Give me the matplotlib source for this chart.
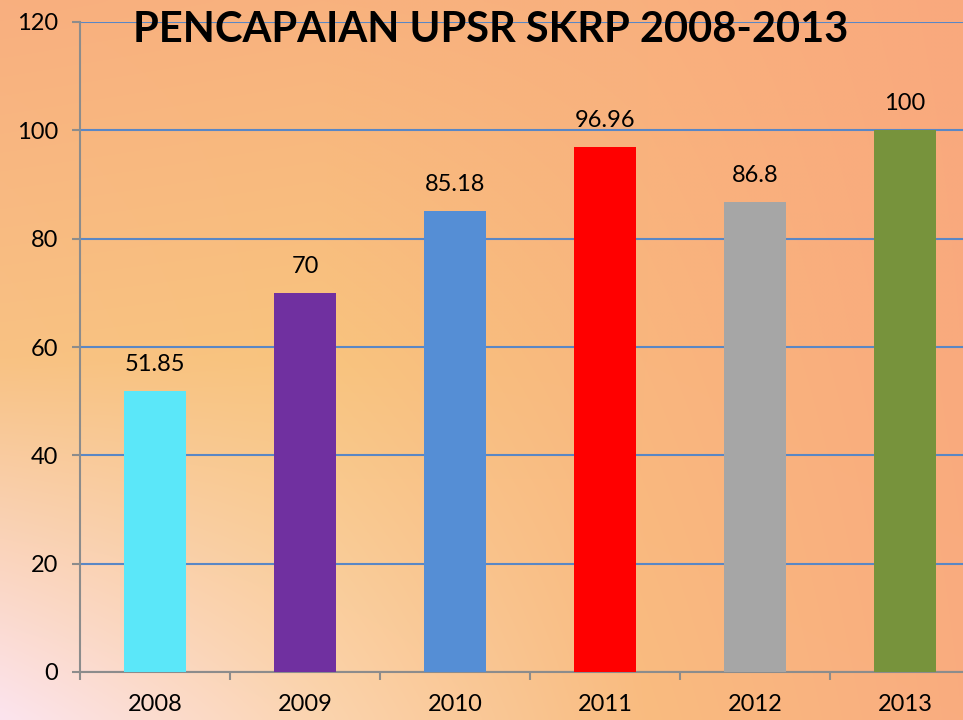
import matplotlib.pyplot as plt
import numpy as np

# data
years = ["2008", "2009", "2010", "2011", "2012", "2013"]
values = [51.85, 70, 85.18, 96.96, 86.8, 100]
value_labels = ["51.85", "70", "85.18", "96.96", "86.8", "100"]
bar_colors = ["#5be7f9", "#7030a0", "#558ed5", "#ff0000", "#a6a6a6", "#77933c"]
title = "PENCAPAIAN UPSR SKRP 2008-2013"

plt.rcParams["font.family"] = ["Lato", "DejaVu Sans"]

fig = plt.figure(figsize=(9.63, 7.2), dpi=100)

# background gradient (bilinear over a few control colours)
def hex2rgb(h):
    h = h.lstrip("#")
    return [int(h[i:i + 2], 16) / 255 for i in (0, 2, 4)]

ctrl = np.array([
    [hex2rgb(c) for c in ["#f9af7f", "#f9b27e", "#f9b07e", "#f9a97d"]],
    [hex2rgb(c) for c in ["#f8c283", "#f8c47e", "#f9b67e", "#f9aa7d"]],
    [hex2rgb(c) for c in ["#fce4ee", "#fbd4ae", "#f9bc80", "#faac7f"]],
])
ny, nx = 180, 240
gy = np.linspace(0, ctrl.shape[0] - 1, ny)
gx = np.linspace(0, ctrl.shape[1] - 1, nx)
img = np.zeros((ny, nx, 3))
for i, yy in enumerate(gy):
    y0 = min(int(yy), ctrl.shape[0] - 2)
    ty = yy - y0
    row = ctrl[y0] * (1 - ty) + ctrl[y0 + 1] * ty
    for k in range(3):
        img[i, :, k] = np.interp(gx, np.arange(ctrl.shape[1]), row[:, k])

bg = fig.add_axes([0, 0, 1, 1], zorder=-10)
bg.imshow(img, aspect="auto", extent=[0, 1, 0, 1], interpolation="bicubic")
bg.axis("off")

ax = fig.add_axes([80 / 963, 1 - 672 / 720, 900 / 963, 650 / 720])
ax.patch.set_alpha(0)

x = np.arange(len(years))
ax.bar(x, values, width=0.41, color=bar_colors, zorder=3)

for xi, v, lab in zip(x, values, value_labels):
    ax.annotate(lab, (xi, v), xytext=(0, 19), textcoords="offset points",
                ha="center", va="center", fontsize=17, color="black")

ax.set_xlim(-0.5, len(years) - 0.5)
ax.set_ylim(0, 120)
ax.set_yticks(np.arange(0, 121, 20))
ax.yaxis.grid(True, color="#5a87c5", linewidth=1.5, zorder=1)
ax.set_axisbelow(True)

ax.set_xticks(np.arange(-0.5, len(years), 1))
ax.set_xticklabels([])
ax.set_xticks(x, minor=True)
ax.set_xticklabels(years, minor=True)
ax.tick_params(axis="x", which="major", length=6, width=1.5, color="#8c8c8c", direction="out")
ax.tick_params(axis="x", which="minor", length=0, pad=16, labelsize=17)
ax.tick_params(axis="y", length=6, width=1.5, color="#8c8c8c", pad=10, labelsize=17)

for s in ["top", "right"]:
    ax.spines[s].set_visible(False)
for s in ["left", "bottom"]:
    ax.spines[s].set_color("#8c8c8c")
    ax.spines[s].set_linewidth(1.5)

fig.text(0.51, 0.958, title, ha="center", va="center", fontsize=30,
         fontweight="bold", color="black")

fig.savefig("out.png", dpi=100)
